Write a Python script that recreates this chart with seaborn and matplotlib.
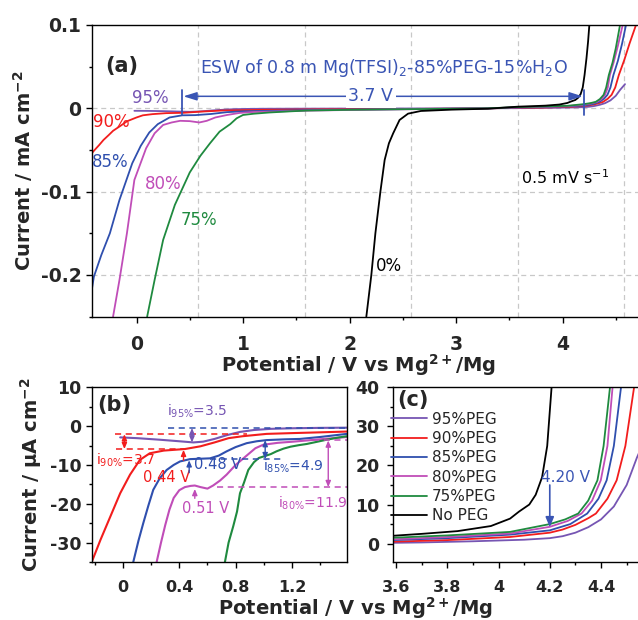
import numpy as np
import pandas as pd
import matplotlib
matplotlib.use("Agg")
import matplotlib.pyplot as plt
import seaborn as sns
from matplotlib.ticker import MultipleLocator, FuncFormatter

sns.set_style("ticks")
plt.rcParams["font.family"] = ["DejaVu Sans"]
plt.rcParams["mathtext.default"] = "regular"

# ---------------- data ----------------
names = ["95%", "90%", "85%", "80%", "75%", "0%"]
legend_labels = ["95%PEG", "90%PEG", "85%PEG", "80%PEG", "75%PEG", "No PEG"]
colors = ["#7655b3", "#f21d1d", "#2f4fae", "#c04db8", "#1f8a3f", "#000000"]

# full sweeps (panels a & c): potential (V vs Mg2+/Mg), current (uA cm-2)
v95 = [-0.02, 0.1, 0.25, 0.4, 0.5, 0.6, 0.74, 0.85, 0.93, 1.05, 1.2, 1.6, 2.0, 2.5, 3.0, 3.3,
       3.585, 3.7, 3.8, 3.9, 4.0, 4.1, 4.2, 4.25, 4.3, 4.35, 4.4, 4.45, 4.5, 4.54, 4.587]
i95 = [-3.0, -3.1, -3.4, -3.9, -4.2, -3.7, -2.3, -1.4, -1.0, -0.7, -0.5, -0.4, -0.3, -0.2, -0.1, 0.0,
       0.2, 0.3, 0.45, 0.6, 0.8, 1.0, 1.4, 1.9, 2.8, 4.2, 6.2, 9.5, 15.0, 22.0, 29.0]
v90 = [-0.42, -0.4, -0.35, -0.31, -0.26, -0.22, -0.15, -0.09, 0.0, 0.06, 0.15, 0.28, 0.44, 0.6, 0.8,
       1.0, 1.2, 1.6, 2.0, 2.5, 3.0, 3.3, 3.585, 3.8, 4.045, 4.2, 4.25, 4.3, 4.35, 4.38, 4.425, 4.461,
       4.495, 4.529, 4.58, 4.63, 4.69, 4.74]
i90 = [-54, -51, -44, -38, -32, -27, -21, -15.6, -11, -8.4, -7, -5.8, -5.4, -4.0, -2.7,
       -2.2, -1.8, -1.4, -1.1, -0.8, -0.4, 0, 0.5, 0.9, 1.7, 2.8, 3.6, 4.8, 6.5, 7.7, 11.5, 16.2,
       25, 40, 58, 78, 100, 118]
v85 = [-0.42, -0.40, -0.33, -0.25, -0.16, -0.10, -0.04, 0.04, 0.12, 0.2, 0.31, 0.43, 0.55, 0.7, 0.85,
       1.0, 1.2, 1.6, 2.0, 2.5, 3.0, 3.3, 3.585, 3.8, 4.045, 4.2, 4.28, 4.346, 4.39, 4.422, 4.45,
       4.478, 4.52, 4.56, 4.596, 4.62]
i85 = [-218, -202, -176, -150, -110, -88, -66, -45, -29, -19, -11, -8.4, -8.2, -6.8, -4.6,
       -3.6, -3.1, -2.2, -1.6, -1.0, -0.4, 0, 0.9, 1.4, 2.3, 3.4, 5.0, 7.7, 11.5, 16.2, 25,
       40, 57, 78, 100, 115]
v80 = [-0.22, -0.16, -0.09, -0.02, 0.09, 0.17, 0.25, 0.33, 0.41, 0.5, 0.59, 0.66, 0.74, 0.85, 0.97,
       1.1, 1.3, 1.6, 2.0, 2.5, 3.0, 3.3, 3.585, 3.8, 4.045, 4.2, 4.27, 4.324, 4.365, 4.399, 4.425,
       4.445, 4.48, 4.52, 4.565, 4.58]
i80 = [-250, -206, -150, -86, -48, -30, -20, -17, -15, -15.4, -17, -15, -11, -8, -5.5,
       -4.4, -3.8, -2.8, -2.0, -1.2, -0.5, 0, 1.1, 1.7, 2.6, 4.3, 5.8, 7.7, 11, 16.2, 25,
       40, 55, 75, 100, 110]
v75 = [0.10, 0.17, 0.25, 0.36, 0.50, 0.6, 0.69, 0.78, 0.88, 0.94, 1.0, 1.1, 1.25, 1.45, 1.6, 2.0,
       2.5, 3.0, 3.3, 3.585, 3.8, 4.045, 4.2, 4.26, 4.311, 4.35, 4.386, 4.41, 4.435, 4.47, 4.5, 4.54, 4.56]
i75 = [-250, -206, -158, -116, -77, -57, -42, -28, -19, -12, -8, -6.5, -5, -3.6, -2.7, -1.8,
       -1.1, -0.5, 0, 1.5, 2.1, 3.0, 5.0, 6.2, 7.7, 11, 16.2, 25, 40, 55, 72, 100, 112]
v0 = [2.158, 2.205, 2.243, 2.29, 2.33, 2.37, 2.41, 2.47, 2.55, 2.67, 2.96, 3.3, 3.585, 3.7, 3.84,
      3.97, 4.045, 4.08, 4.12, 4.145, 4.17, 4.19, 4.207, 4.225, 4.24, 4.252, 4.26]
i0 = [-250, -200, -150, -100, -62, -42, -30, -14, -6.4, -3.2, -1.6, -0.5, 2.0, 2.5, 3.2,
      4.5, 6.4, 8.2, 10, 12.5, 17, 25, 40, 60, 80, 100, 112]

# cathodic detail (panel b): potential (V), current (uA cm-2)
vb95 = [-0.02, 0.1, 0.26, 0.4, 0.5, 0.57, 0.65, 0.74, 0.83, 0.93, 1.05, 1.21, 1.4, 1.59]
ib95 = [-2.9, -3.1, -3.5, -3.9, -4.2, -4.0, -3.3, -2.3, -1.5, -1.0, -0.7, -0.55, -0.45, -0.4]
vb90 = [-0.222, -0.16, -0.09, -0.02, 0.05, 0.12, 0.19, 0.29, 0.44, 0.55, 0.65, 0.75, 0.85, 1.02,
        1.2, 1.4, 1.59]
ib90 = [-35, -29.3, -23.3, -17.3, -12.5, -8.7, -7.0, -6.3, -5.9, -5.2, -4.2, -3.1, -2.6, -2.0,
        -1.8, -1.6, -1.4]
vb85 = [0.073, 0.11, 0.144, 0.18, 0.215, 0.26, 0.31, 0.36, 0.405, 0.476, 0.55, 0.618, 0.68, 0.736,
        0.8, 0.878, 0.95, 1.02, 1.15, 1.257, 1.4, 1.59]
ib85 = [-35, -29.5, -25, -20.5, -16.4, -13.5, -11.3, -10, -9.1, -8.5, -8.4, -8.3, -7.6, -6.5,
        -5.4, -4.4, -3.9, -3.6, -3.4, -3.3, -2.8, -2.0]
vb80 = [0.239, 0.27, 0.30, 0.33, 0.36, 0.40, 0.44, 0.48, 0.51, 0.55, 0.6, 0.64, 0.69, 0.736, 0.8,
        0.878, 0.94, 0.996, 1.1, 1.21, 1.4, 1.59]
ib80 = [-35, -30, -25.5, -21.5, -18.5, -16.5, -15.7, -15.4, -15.3, -15.7, -16.1, -15.3, -14, -12.5,
        -10, -7.6, -5.7, -4.8, -4.3, -4.0, -3.4, -2.8]
vb75 = [0.724, 0.75, 0.783, 0.81, 0.831, 0.86, 0.89, 0.93, 0.965, 1.0, 1.05, 1.09, 1.14, 1.19, 1.25,
        1.305, 1.37, 1.447, 1.52, 1.589]
ib75 = [-35, -30, -25.8, -22, -17.3, -14.5, -11.3, -9.3, -8.2, -7.8, -7.2, -6.5, -5.8, -5.3, -4.9,
        -4.6, -4.1, -3.5, -3.0, -2.6]

full = list(zip(names, [v95, v90, v85, v80, v75, v0], [i95, i90, i85, i80, i75, i0]))
detail = list(zip(names[:5], [vb95, vb90, vb85, vb80, vb75], [ib95, ib90, ib85, ib80, ib75]))

df_full = pd.concat([pd.DataFrame({"curve": n, "V": v, "I": i}) for n, v, i in full])
df_full["I_mA"] = df_full["I"] / 1000.0
df_b = pd.concat([pd.DataFrame({"curve": n, "V": v, "I": i}) for n, v, i in detail])
pal = dict(zip(names, colors))

# ---------------- figure ----------------
W, H = 638, 620
fig = plt.figure(figsize=(W / 100, H / 100), dpi=100)

def px_axes(l, t, r, b):
    return fig.add_axes([l / W, 1 - b / H, (r - l) / W, (b - t) / H])

axa = px_axes(91.7, 25, 641, 317)
axb = px_axes(91.7, 387.3, 346.7, 562)
axc = px_axes(392.7, 387.3, 641, 562)

# grid for panel a
for gx in [0.58, 1.58, 2.58, 3.58, 4.58]:
    axa.axvline(gx, color="#c8c8c8", ls=(0, (4, 3)), lw=0.9, zorder=0)
for gy in [0.0, -0.1, -0.2]:
    axa.axhline(gy, color="#c8c8c8", ls=(0, (4, 3)), lw=0.9, zorder=0)

for n in names:
    sub = df_full[df_full.curve == n]
    sns.lineplot(data=sub, x="V", y="I_mA", color=pal[n], lw=1.3, sort=False,
                 estimator=None, ax=axa, legend=False)
for n in names[:5]:
    sub = df_b[df_b.curve == n]
    sns.lineplot(data=sub, x="V", y="I", color=pal[n], lw=1.5, sort=False,
                 estimator=None, ax=axb, legend=False)
for n, lab in zip(names, legend_labels):
    sub = df_full[df_full.curve == n]
    sns.lineplot(data=sub, x="V", y="I", color=pal[n], lw=1.3, sort=False,
                 estimator=None, ax=axc, label=lab)

axa.set_xlim(-0.4207, 4.737)
axa.set_ylim(-0.2505, 0.1)
axb.set_xlim(-0.2223, 1.589)
axb.set_ylim(-35, 10)
axc.set_xlim(3.587, 4.556)
axc.set_ylim(-4.7, 40)

axa.xaxis.set_major_locator(MultipleLocator(1)); axa.xaxis.set_minor_locator(MultipleLocator(0.5))
axa.yaxis.set_major_locator(MultipleLocator(0.1)); axa.yaxis.set_minor_locator(MultipleLocator(0.05))
axb.xaxis.set_major_locator(MultipleLocator(0.4)); axb.xaxis.set_minor_locator(MultipleLocator(0.2))
axb.yaxis.set_major_locator(MultipleLocator(10)); axb.yaxis.set_minor_locator(MultipleLocator(5))
axc.xaxis.set_major_locator(MultipleLocator(0.2)); axc.xaxis.set_minor_locator(MultipleLocator(0.1))
axc.yaxis.set_major_locator(MultipleLocator(10)); axc.yaxis.set_minor_locator(MultipleLocator(5))

def fmt(v, pos):
    s = ("%.2f" % v).rstrip("0").rstrip(".")
    return "0" if s in ("-0", "0") else s

for ax in (axa, axb, axc):
    ax.xaxis.set_major_formatter(FuncFormatter(fmt))
    ax.yaxis.set_major_formatter(FuncFormatter(fmt))
    for s in ax.spines.values():
        s.set_linewidth(1.0)
        s.set_color("black")
    ax.tick_params(which="major", direction="out", length=4.5, width=1.0, color="black")
    ax.tick_params(which="minor", direction="out", length=2.5, width=1.0, color="black")
    ax.set_xlabel("")
    ax.set_ylabel("")

axa.tick_params(axis="x", which="major", labelsize=13.5, pad=8.5)
axa.tick_params(axis="y", which="major", labelsize=13.5, pad=3)
axb.tick_params(axis="y", which="major", labelsize=12.5, pad=3)
axc.tick_params(axis="y", which="major", labelsize=12.5, pad=5)
axb.tick_params(axis="x", which="major", labelsize=11.5, pad=8.5)
axc.tick_params(axis="x", which="major", labelsize=11.5, pad=8.5)
for ax in (axa, axb, axc):
    for t in ax.get_xticklabels() + ax.get_yticklabels():
        t.set_fontweight("bold")

lab_kw = dict(fontsize=14, fontweight="bold")
axa.set_ylabel("Current / mA cm$^{\\mathbf{-2}}$", labelpad=4, **lab_kw)
axb.set_ylabel("Current / \u03bcA cm$^{\\mathbf{-2}}$", labelpad=4, **lab_kw)
fig.text(358 / W, 1 - 372 / H, "Potential / V vs Mg$^{\\mathbf{2+}}$/Mg", ha="center", va="baseline", **lab_kw)
fig.text(355 / W, 1 - 615 / H, "Potential / V vs Mg$^{\\mathbf{2+}}$/Mg", ha="center", va="baseline", **lab_kw)

# ---------- panel a annotations ----------
blue_t = "#3a55b4"
axa.text(0.025, 0.86, "(a)", transform=axa.transAxes, fontsize=15, fontweight="bold", va="center")
axa.text(0.6, 0.048, "ESW of 0.8 m Mg(TFSI)$_2$-85%PEG-15%H$_2$O", color=blue_t, fontsize=12.5,
         va="center", ha="left")
axa.annotate("", xy=(0.44, 0.0144), xytext=(4.19, 0.0144),
             arrowprops=dict(arrowstyle="<|-|>,head_length=0.8,head_width=0.25", color=blue_t, lw=1.1,
                             shrinkA=0, shrinkB=0))
for xv in (0.427, 4.20):
    axa.plot([xv, xv], [0.0216, -0.0084], color=blue_t, lw=1.3)
axa.text(2.2, 0.0144, "3.7 V", color=blue_t, fontsize=12.5, ha="center", va="center",
         bbox=dict(fc="white", ec="none", pad=2))
axa.text(-0.04, 0.0128, "95%", color=colors[0], fontsize=12, ha="left", va="center")
axa.text(-0.41, -0.0168, "90%", color=colors[1], fontsize=12, ha="left", va="center")
axa.text(-0.42, -0.0648, "85%", color=colors[2], fontsize=12, ha="left", va="center")
axa.text(0.08, -0.0912, "80%", color=colors[3], fontsize=12, ha="left", va="center")
axa.text(0.41, -0.1344, "75%", color=colors[4], fontsize=12, ha="left", va="center")
axa.text(2.25, -0.1896, "0%", color="black", fontsize=12, ha="left", va="center")
axa.text(3.61, -0.0828, "0.5 mV s$^{-1}$", color="black", fontsize=11.5, ha="left", va="center")

# ---------- panel b annotations ----------
axb.text(0.02, 0.9, "(b)", transform=axb.transAxes, fontsize=15, fontweight="bold", va="center")
ak = dict(shrinkA=0, shrinkB=0, lw=1.0)
dbl = "<|-|>,head_length=0.35,head_width=0.15"
one = "-|>,head_length=0.35,head_width=0.15"
fs_b = 10
# i95
axb.plot([0.32, 1.59], [-0.5, -0.5], color=colors[2], ls=(0, (4, 3)), lw=1.1)
axb.annotate("", xy=(0.49, -0.5), xytext=(0.49, -4.2), arrowprops=dict(arrowstyle=dbl, color=colors[0], **ak))
axb.text(0.31, 3.7, "i$_{95\\%}$=3.5", color=colors[0], fontsize=fs_b, ha="left", va="center")
# i90
axb.plot([-0.06, 0.88], [-2.1, -2.1], color=colors[1], ls=(0, (4, 3)), lw=1.1)
axb.plot([-0.05, 0.43], [-5.9, -5.9], color=colors[1], ls=(0, (4, 3)), lw=1.1)
axb.annotate("", xy=(0.01, -2.1), xytext=(0.01, -5.9), arrowprops=dict(arrowstyle=dbl, color=colors[1], **ak))
axb.text(-0.19, -8.9, "i$_{90\\%}$=3.7", color=colors[1], fontsize=fs_b, ha="left", va="center")
axb.annotate("", xy=(0.43, -6.1), xytext=(0.43, -8.8), arrowprops=dict(arrowstyle=one, color=colors[1], **ak))
axb.text(0.14, -13.2, "0.44 V", color=colors[1], fontsize=fs_b + 0.5, ha="left", va="center")
# i85
axb.plot([0.62, 1.14], [-8.5, -8.5], color=colors[2], ls=(0, (4, 3)), lw=1.1)
axb.annotate("", xy=(1.01, -3.6), xytext=(1.01, -8.5), arrowprops=dict(arrowstyle=dbl, color=colors[2], **ak))
axb.text(0.995, -10.4, "i$_{85\\%}$=4.9", color=colors[2], fontsize=fs_b, ha="left", va="center")
axb.annotate("", xy=(0.47, -8.8), xytext=(0.47, -12.0), arrowprops=dict(arrowstyle=one, color=colors[2], **ak))
axb.text(0.505, -10.0, "0.48 V", color=colors[2], fontsize=fs_b + 0.5, ha="left", va="center")
# i80
axb.plot([0.67, 1.59], [-15.7, -15.7], color=colors[3], ls=(0, (4, 3)), lw=1.1)
axb.plot([1.35, 1.59], [-3.7, -3.7], color=colors[3], ls=(0, (4, 3)), lw=1.1)
axb.annotate("", xy=(1.458, -3.7), xytext=(1.458, -15.7), arrowprops=dict(arrowstyle=dbl, color=colors[3], **ak))
axb.text(1.1, -20.0, "i$_{80\\%}$=11.9", color=colors[3], fontsize=fs_b, ha="left", va="center")
axb.annotate("", xy=(0.51, -16.2), xytext=(0.51, -18.6), arrowprops=dict(arrowstyle=one, color=colors[3], **ak))
axb.text(0.42, -21.2, "0.51 V", color=colors[3], fontsize=fs_b + 0.5, ha="left", va="center")

# ---------- panel c annotations ----------
axc.text(0.02, 0.93, "(c)", transform=axc.transAxes, fontsize=15, fontweight="bold", va="center")
axc.text(4.26, 17.0, "4.20 V", color=blue_t, fontsize=11, ha="center", va="center")
axc.annotate("", xy=(4.2, 4.2), xytext=(4.2, 15.0),
             arrowprops=dict(arrowstyle="-|>,head_length=0.6,head_width=0.25", color=blue_t, lw=1.2,
                             shrinkA=0, shrinkB=0))
leg = axc.legend(loc="upper left", bbox_to_anchor=(-0.005, 0.86), frameon=False, fontsize=11,
                 handlelength=2.3, handletextpad=0.35, labelspacing=0.28, borderaxespad=0,
                 borderpad=0)

fig.savefig("out.png", dpi=100)
